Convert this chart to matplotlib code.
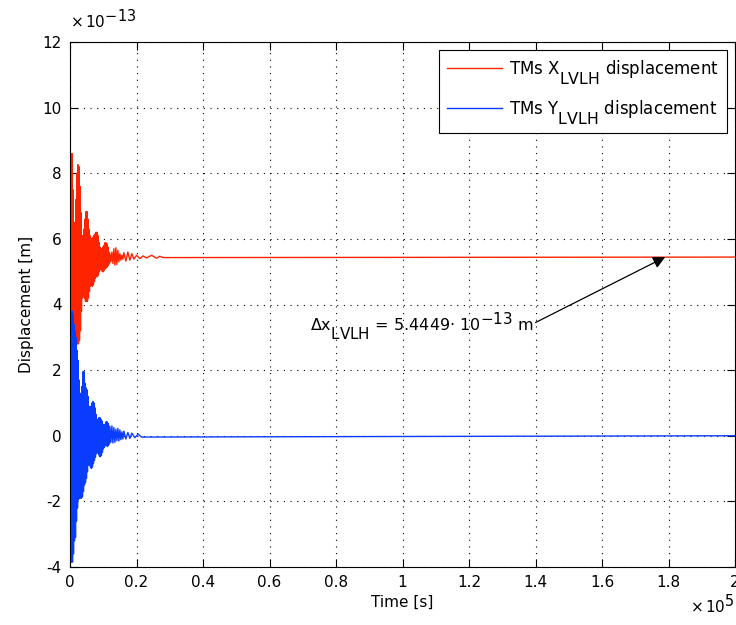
import matplotlib
matplotlib.use("Agg")
import matplotlib.pyplot as plt
import matplotlib._mathtext as _mt
from matplotlib.ticker import FuncFormatter

plt.rcParams['font.family'] = ['DejaVu Sans']
plt.rcParams['mathtext.fontset'] = 'dejavusans'
# MATLAB-like large, deep subscripts
_mt.SHRINK_FACTOR = 0.95
for _name in ('FontConstantsBase', 'DejaVuSansFontConstants', 'DejaVuSerifFontConstants'):
    _cls = getattr(_mt, _name, None)
    if _cls is not None:
        _cls.sub1 = 1.0

# ---- data: (time [s], displacement [1e-13 m]) alternating maxima / minima ----
red_points = [
    (0, 5.44), (300, 8.6), (450, 2.7), (600, 8.6), (750, 2.7), (900, 7.5), (1050, 2.8),
    (1200, 6.4), (1350, 2.9), (1500, 6.5), (1650, 2.8), (1800, 7.2), (1950, 2.8),
    (2100, 8.0), (2250, 2.8), (2400, 8.26), (2550, 2.8), (2700, 8.2), (2850, 2.9),
    (3000, 7.6), (3150, 3.2), (3300, 6.8), (3450, 3.8), (3600, 6.1), (3750, 4.2),
    (3900, 6.1), (4050, 4.3), (4200, 6.3), (4350, 4.2), (4500, 6.6), (4650, 4.1),
    (4800, 6.83), (4950, 4.1), (5100, 6.83), (5250, 4.1), (5400, 6.6), (5550, 4.2),
    (5700, 6.3), (5850, 4.4), (6000, 6.1), (6150, 4.55), (6300, 6.0), (6450, 4.6),
    (6600, 6.0), (6750, 4.55), (6900, 6.05), (7050, 4.6), (7200, 6.1), (7350, 4.7),
    (7500, 6.15), (7650, 4.8), (7800, 6.2), (7950, 4.85), (8100, 6.2), (8250, 4.85),
    (8400, 6.1), (8550, 4.9), (8700, 5.9), (8850, 5.0), (9000, 5.75), (9150, 5.06),
    (9300, 5.7), (9450, 5.06), (9600, 5.7), (9750, 5.0), (9900, 5.75), (10050, 5.0),
    (10200, 5.8), (10350, 5.05), (10500, 5.88), (10650, 5.1), (10800, 5.88), (10950, 5.12),
    (11100, 5.85), (11250, 5.15), (11400, 5.75), (11550, 5.2), (11700, 5.6), (11850, 5.25),
    (12000, 5.55), (12300, 5.3), (12600, 5.6), (12900, 5.25), (13200, 5.7), (13500, 5.2),
    (13800, 5.73), (14100, 5.22), (14400, 5.65), (14700, 5.3), (15000, 5.55), (15300, 5.35),
    (15600, 5.5), (15900, 5.38), (16200, 5.58), (16800, 5.32), (17400, 5.6), (18000, 5.35),
    (18600, 5.55), (19200, 5.38), (20000, 5.5), (21000, 5.4), (22000, 5.48), (23000, 5.42),
    (24500, 5.5), (26000, 5.41), (27000, 5.47), (28000, 5.43), (200000, 5.4449),
]

blue_points = [
    (0, 0.0), (300, 3.7), (450, -3.85), (600, 3.8), (750, -3.85), (900, 3.7), (1050, -3.6),
    (1200, 3.4), (1350, -3.2), (1500, 3.2), (1650, -3.1), (1800, 3.0), (1950, -2.6),
    (2100, 2.6), (2250, -2.2), (2400, 2.3), (2550, -1.95), (2700, 1.7), (2850, -1.9),
    (3000, 1.3), (3150, -1.9), (3300, 1.2), (3450, -1.9), (3600, 1.5), (3750, -1.86),
    (3900, 1.95), (4050, -1.7), (4200, 1.95), (4350, -1.5), (4500, 1.6), (4650, -1.43),
    (4800, 1.46), (4950, -1.3), (5100, 1.4), (5250, -1.1), (5400, 1.2), (5550, -0.9),
    (5700, 0.9), (5850, -0.88), (6000, 0.8), (6150, -0.95), (6300, 0.9), (6450, -1.0),
    (6600, 1.0), (6750, -0.95), (6900, 1.04), (7050, -0.85), (7200, 1.0), (7350, -0.75),
    (7500, 0.85), (7650, -0.65), (7800, 0.65), (7950, -0.55), (8100, 0.5), (8250, -0.5),
    (8400, 0.5), (8550, -0.55), (8700, 0.55), (8850, -0.62), (9000, 0.55), (9150, -0.64),
    (9300, 0.5), (9450, -0.6), (9600, 0.45), (9750, -0.5), (9900, 0.35), (10050, -0.4),
    (10200, 0.3), (10350, -0.35), (10500, 0.35), (10650, -0.3), (10800, 0.42), (10950, -0.3),
    (11100, 0.43), (11250, -0.33), (11400, 0.38), (11550, -0.3), (11700, 0.3), (11850, -0.25),
    (12000, 0.28), (12300, -0.2), (12600, 0.3), (12900, -0.22), (13200, 0.25), (13500, -0.2),
    (13800, 0.2), (14100, -0.15), (14400, 0.22), (14700, -0.16), (15000, 0.18), (15300, -0.12),
    (15600, 0.12), (15900, -0.1), (16200, 0.14), (16800, -0.1), (17400, 0.1), (18000, -0.08),
    (18600, 0.08), (19500, -0.06), (20500, 0.05), (21500, -0.04), (200000, 0.0),
]

x_ticks = [0, 20000, 40000, 60000, 80000, 100000, 120000, 140000, 160000, 180000, 200000]
y_ticks = [-4, -2, 0, 2, 4, 6, 8, 10, 12]
delta_x = 5.4449
legend_labels = ['TMs X$_{\\mathregular{LVLH}}$ displacement',
                 'TMs Y$_{\\mathregular{LVLH}}$ displacement']

red = '#ff2400'
blue = '#0a3cff'

fig = plt.figure(figsize=(7.36, 6.25), dpi=100)
ax = fig.add_axes([70 / 736, 1 - 567 / 625, 665 / 736, 525 / 625])

red_t = [p[0] for p in red_points]
red_v = [p[1] * 1e-13 for p in red_points]
blue_t = [p[0] for p in blue_points]
blue_v = [p[1] * 1e-13 for p in blue_points]

ax.plot(red_t, red_v, color=red, lw=1.0, label=legend_labels[0])
ax.plot(blue_t, blue_v, color=blue, lw=1.0, label=legend_labels[1])

ax.set_xlim(0, 200000)
ax.set_ylim(-4e-13, 12e-13)
ax.set_xticks(x_ticks)
ax.set_yticks([v * 1e-13 for v in y_ticks])
ax.xaxis.set_major_formatter(FuncFormatter(lambda v, p: '%g' % round(v / 1e5, 6)))
ax.yaxis.set_major_formatter(FuncFormatter(lambda v, p: '%g' % round(v / 1e-13, 6)))
ax.tick_params(direction='in', top=True, right=True, labelsize=11, length=6, width=0.8,
               pad=6)
ax.grid(True, linestyle=(0, (1, 5)), color='black', linewidth=0.8)
for s in ax.spines.values():
    s.set_linewidth(0.8)

ax.set_xlabel('Time [s]', fontsize=11, labelpad=3)
ax.set_ylabel('Displacement [m]', fontsize=11, labelpad=6)

ax.text(0.0, 1.022, r'$\times\,\mathregular{10}^{\mathregular{-13}}$', transform=ax.transAxes,
        fontsize=11, ha='left', va='bottom')
ax.text(1.0, -0.048, r'$\times\,\mathregular{10}^{\mathregular{5}}$', transform=ax.transAxes,
        fontsize=11, ha='right', va='top')

ax.annotate('', xy=(179000, delta_x * 1e-13), xytext=(140000, 3.45e-13),
            arrowprops=dict(arrowstyle='-|>', color='black', lw=0.9,
                            mutation_scale=18, shrinkA=0, shrinkB=0))
ax.text(139500, 3.35e-13,
        r'$\Delta\mathregular{x}_{\mathregular{LVLH}}$ = %.4f$\cdot$ 10$^{\mathregular{-13}}$ m' % delta_x,
        fontsize=11.5, ha='right', va='center')

leg = ax.legend(loc='upper right', fontsize=12, frameon=True, fancybox=False,
                edgecolor='black', framealpha=1, handlelength=3.3, handletextpad=0.45,
                borderaxespad=0.5, borderpad=0.45, labelspacing=0.7)
leg.get_frame().set_linewidth(0.8)

fig.savefig('out.png', dpi=100)
